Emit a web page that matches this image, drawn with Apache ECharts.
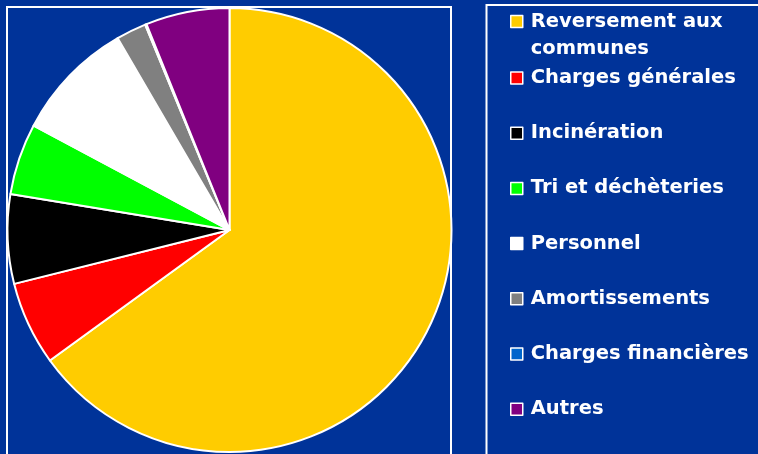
<!DOCTYPE html>
<html>
<head>
<meta charset="utf-8">
<script src="https://cdn.jsdelivr.net/npm/echarts@6/dist/echarts.min.js"></script>
<style>
  html, body { margin: 0; padding: 0; background: #003399; }
  #main { width: 758px; height: 454px; }
</style>
</head>
<body>
<div id="main"></div>
<script>
// postes de dépenses (en % du total)
var categories = ['Reversement aux\ncommunes', 'Charges générales', 'Incinération', 'Tri et déchèteries',
                  'Personnel', 'Amortissements', 'Charges financières', 'Autres'];
var values = [65.0, 6.1, 6.5, 5.2, 8.8, 2.2, 0.1, 6.1];
var colors = ['#FFCC00', '#FF0000', '#000000', '#00FF00', '#FFFFFF', '#808080', '#0066CC', '#800080'];

var myChart = echarts.init(document.getElementById('main'));

var legendText = {
  color: '#fff',
  fontFamily: 'DejaVu Sans',
  fontWeight: 'bold',
  fontSize: 19.5,
  padding: [0, 0, 0, 3]
};

var option = {
  backgroundColor: '#003399',
  animation: false,
  color: colors,
  graphic: [
    { type: 'rect', shape: { x: 7, y: 7, width: 444, height: 470 },
      style: { fill: 'none', stroke: '#fff', lineWidth: 2 } },
    { type: 'rect', shape: { x: 486.5, y: 5, width: 300, height: 470 },
      style: { fill: 'none', stroke: '#fff', lineWidth: 2 } }
  ],
  legend: [{
    // première entrée sur deux lignes, carré aligné sur la 1re ligne
    data: categories.slice(0, 1),
    orient: 'vertical',
    left: 510,
    top: 21.5 - 41.25,
    padding: 0,
    itemWidth: 12,
    itemHeight: 12,
    icon: 'rect',
    selectedMode: false,
    itemStyle: { borderColor: '#fff', borderWidth: 1.5 },
    formatter: function (name) { return '\n' + name; },
    textStyle: Object.assign({ lineHeight: 27.5 }, legendText)
  }, {
    data: categories.slice(1),
    orient: 'vertical',
    left: 510,
    top: 68,
    padding: 0,
    itemGap: 35.2,
    itemWidth: 12,
    itemHeight: 12,
    icon: 'rect',
    selectedMode: false,
    itemStyle: { borderColor: '#fff', borderWidth: 1.5 },
    textStyle: Object.assign({ lineHeight: 20 }, legendText)
  }],
  series: [{
    type: 'pie',
    center: [229.5, 230],
    radius: 222,
    startAngle: 90,
    clockwise: true,
    label: { show: false },
    labelLine: { show: false },
    emphasis: { disabled: true },
    itemStyle: { borderColor: '#fff', borderWidth: 2 },
    data: categories.map(function (c, i) {
      return { name: c, value: values[i] };
    })
  }]
};
myChart.setOption(option);
</script>
</body>
</html>
